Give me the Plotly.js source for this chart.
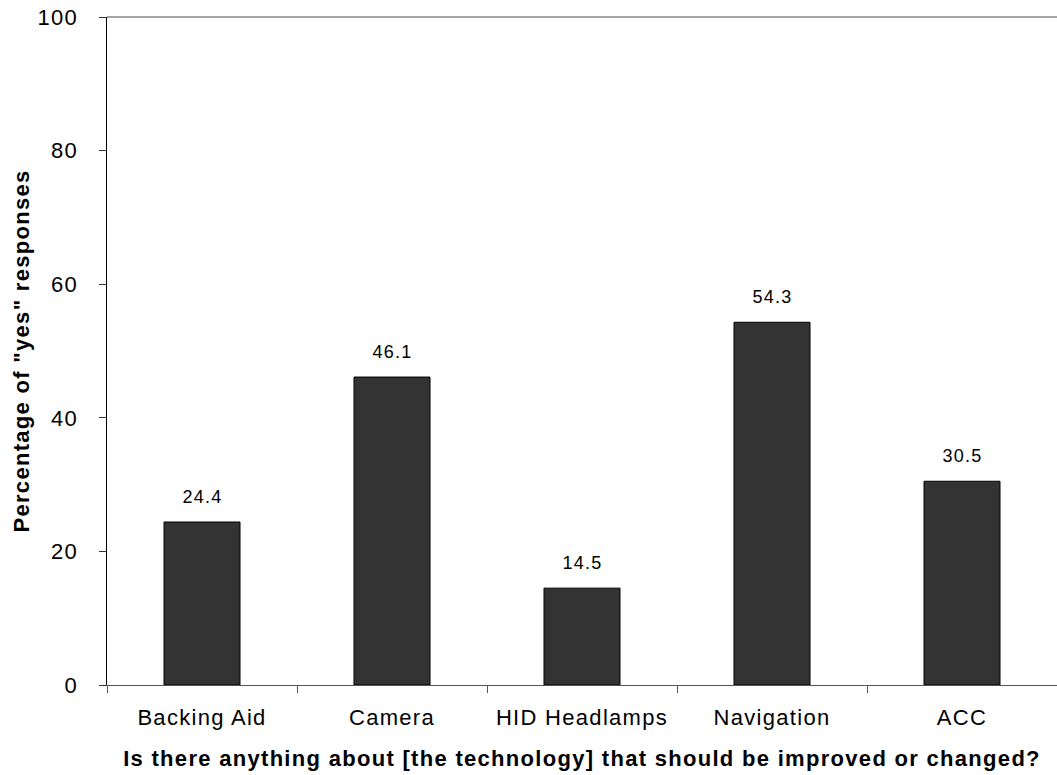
<!DOCTYPE html>
<html>
<head>
<meta charset="utf-8">
<script src="https://cdn.plot.ly/plotly-3.0.1.min.js"></script>
<style>
html,body{margin:0;padding:0;background:#fff;}
#chart{width:1057px;height:775px;}
#chart text{letter-spacing:1.3px;}
</style>
</head>
<body>
<div id="chart"></div>
<script>
const categories = ["Backing Aid", "Camera", "HID Headlamps", "Navigation", "ACC"];
const yesPercent = [24.4, 46.1, 14.5, 54.3, 30.5];
const yTickValues = [0, 20, 40, 60, 80, 100];
const xTitle = "Is there anything about [the technology] that should be improved or changed?";
const yTitle = "Percentage of \"yes\" responses";

const font = "Liberation Sans, Arial, sans-serif";

const trace = {
  type: "bar",
  x: categories,
  y: yesPercent,
  width: 0.4,
  marker: {color: "#333333", line: {color: "#000000", width: 1}},
  hoverinfo: "x+y"
};

const annotations = categories.map((c, i) => ({
  x: c, y: yesPercent[i], xref: "x", yref: "y",
  text: yesPercent[i].toFixed(1),
  showarrow: false, yanchor: "bottom", yshift: 13,
  font: {family: font, size: 18, color: "#000"}
}));

const layout = {
  width: 1057, height: 775,
  margin: {l: 107, r: 0, t: 17, b: 90},
  paper_bgcolor: "#fff", plot_bgcolor: "#fff",
  showlegend: false,
  font: {family: font, color: "#000"},
  xaxis: {
    type: "category",
    range: [-0.5, 4.5],
    showline: true, linecolor: "#555", linewidth: 1,
    ticks: "outside", tickson: "boundaries", ticklen: 7, tickcolor: "#555",
    ticklabelstandoff: 13,
    tickfont: {family: font, size: 22, color: "#000"},
    showgrid: false, zeroline: false,
    title: {text: "<b>" + xTitle + "</b>", font: {family: font, size: 22, color: "#000"}, standoff: 21}
  },
  yaxis: {
    range: [0, 100],
    tickvals: yTickValues,
    showline: true, linecolor: "#000", linewidth: 1.5,
    ticks: "outside", ticklen: 7, tickcolor: "#333",
    ticklabelstandoff: 16,
    tickfont: {family: font, size: 22, color: "#000"},
    showgrid: false, zeroline: false,
    title: {text: "<b>" + yTitle + "</b>", font: {family: font, size: 22, color: "#000"}, standoff: 5}
  },
  shapes: [{
    type: "line", xref: "paper", yref: "paper", x0: 0, x1: 1, y0: 1, y1: 1,
    line: {color: "#888", width: 1.5}
  }],
  annotations: annotations
};

Plotly.newPlot("chart", [trace], layout, {displayModeBar: false, staticPlot: true});
</script>
</body>
</html>
